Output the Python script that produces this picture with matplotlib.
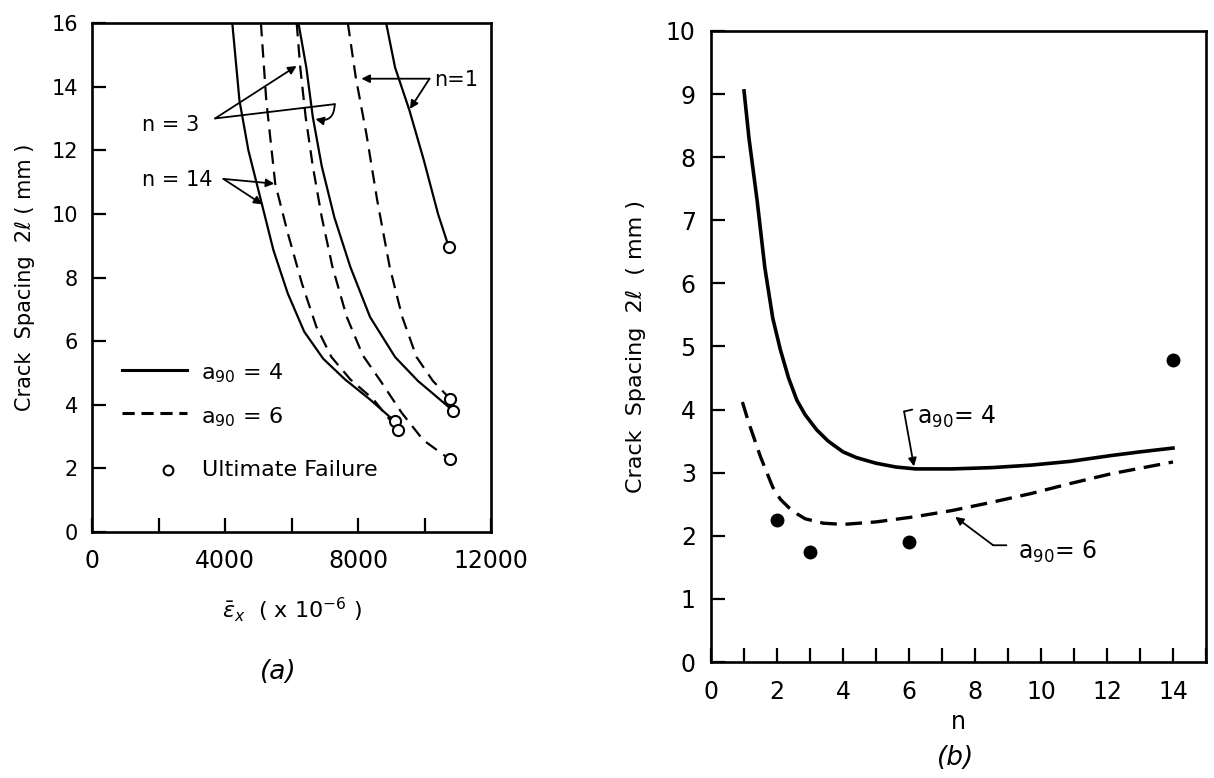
import matplotlib
matplotlib.use("Agg")
import matplotlib.pyplot as plt
from matplotlib.lines import Line2D

plt.rcParams['font.family'] = ['DejaVu Sans']
plt.rcParams['mathtext.fontset'] = 'dejavusans'

# ---------------- Panel (a) data: strain (x1e-6) vs crack spacing (mm) ----------------
n14_solid_x = [4218, 4433, 4702, 5079, 5455, 5886, 6380, 6950, 7604, 8354, 9104]
n14_solid_y = [16.0, 13.57, 12.0, 10.43, 8.86, 7.5, 6.3, 5.45, 4.8, 4.17, 3.48]
n14_dash_x = [5079, 5240, 5509, 5886, 6316, 6747, 7200, 7765, 8461, 9210]
n14_dash_y = [16.0, 13.57, 10.95, 9.4, 7.8, 6.45, 5.5, 4.8, 4.17, 3.2]
n3_dash_x = [6155, 6262, 6424, 6639, 6908, 7231, 7661, 8145, 8675, 9318, 9960, 10763]
n3_dash_y = [16.0, 14.6, 13.05, 11.5, 9.9, 8.33, 6.76, 5.55, 4.75, 3.74, 2.89, 2.28]
n3_solid_x = [6208, 6445, 6639, 6908, 7285, 7769, 8360, 9114, 9800, 10400, 10870]
n3_solid_y = [16.0, 14.6, 13.05, 11.5, 9.9, 8.33, 6.76, 5.5, 4.75, 4.22, 3.8]
n1_dash_x = [7693, 7930, 8253, 8576, 8952, 9329, 9759, 10250, 10763]
n1_dash_y = [16.0, 14.3, 12.5, 10.43, 8.33, 6.76, 5.5, 4.75, 4.19]
n1_solid_x = [8845, 9114, 9544, 9975, 10405, 10728]
n1_solid_y = [16.0, 14.6, 13.26, 11.7, 10.0, 8.96]
fail_x = [9104, 9210, 10763, 10870, 10763, 10728]
fail_y = [3.48, 3.2, 4.19, 3.8, 2.28, 8.96]

a_xticks = [0, 2000, 4000, 6000, 8000, 10000, 12000]
a_xticklabels = ['0', '', '4000', '', '8000', '', '12000']
a_yticks = [0, 2, 4, 6, 8, 10, 12, 14, 16]

# ---------------- Panel (b) data: n vs crack spacing ----------------
b4_n = [1.0, 1.15, 1.4, 1.63, 1.87, 2.1, 2.35, 2.6, 2.85, 3.2, 3.55, 4.0, 4.4, 5.0,
        5.6, 6.2, 7.3, 8.5, 9.7, 10.9, 12.1, 13.0, 14.0]
b4_s = [9.05, 8.3, 7.3, 6.25, 5.45, 4.95, 4.5, 4.15, 3.92, 3.68, 3.5, 3.33, 3.24, 3.15,
        3.09, 3.06, 3.06, 3.08, 3.12, 3.18, 3.27, 3.33, 3.39]
b6_n = [0.95, 1.15, 1.5, 1.87, 2.1, 2.35, 2.6, 2.85, 3.4, 4.0, 5.0, 6.15, 7.3, 8.5,
        9.7, 10.9, 12.1, 14.0]
b6_s = [4.12, 3.78, 3.25, 2.77, 2.58, 2.45, 2.35, 2.27, 2.2, 2.18, 2.22, 2.3, 2.4, 2.53,
        2.67, 2.83, 2.98, 3.17]
exp_n = [2, 3, 6, 14]
exp_s = [2.25, 1.75, 1.9, 4.78]
b_xticks = list(range(0, 16))
b_xticklabels = [str(v) if v % 2 == 0 and v <= 14 else '' for v in b_xticks]
b_yticks = list(range(0, 11))

fig = plt.figure(figsize=(12.14, 7.78), dpi=100)
axa = fig.add_axes([0.0758, 0.3162, 0.3287, 0.6542])
axb = fig.add_axes([0.5857, 0.1491, 0.4077, 0.8111])

SP = 1.9
for ax in (axa, axb):
    for s in ax.spines.values():
        s.set_linewidth(SP)
        s.set_color('black')

# ---- panel (a)
lw_a = 1.6
dash_a = (6.0, 3.6)
axa.plot(n14_solid_x, n14_solid_y, color='k', lw=lw_a)
axa.plot(n14_dash_x, n14_dash_y, color='k', lw=lw_a, dashes=dash_a)
axa.plot(n3_solid_x, n3_solid_y, color='k', lw=lw_a)
axa.plot(n3_dash_x, n3_dash_y, color='k', lw=lw_a, dashes=dash_a)
axa.plot(n1_solid_x, n1_solid_y, color='k', lw=lw_a)
axa.plot(n1_dash_x, n1_dash_y, color='k', lw=lw_a, dashes=dash_a)
axa.plot(fail_x, fail_y, linestyle='none', marker='o', ms=8, mfc='white', mec='k', mew=1.5, zorder=5)

axa.set_xlim(0, 12000)
axa.set_ylim(0, 16)
axa.set_xticks(a_xticks)
axa.set_xticklabels(a_xticklabels)
axa.set_yticks(a_yticks)
axa.tick_params(axis='x', direction='in', length=10, width=1.6, labelsize=17, pad=12)
axa.tick_params(axis='y', direction='in', length=10, width=1.6, labelsize=15, pad=10)
axa.set_ylabel('Crack  Spacing  2ℓ ( mm )', fontsize=15, labelpad=12)
axa.set_xlabel(r'$\bar{\epsilon}_{x}$  ( x 10$^{-6}$ )', fontsize=16, labelpad=16)

aprops = dict(arrowstyle='-|>', color='k', lw=1.3, mutation_scale=12, shrinkA=0, shrinkB=0)
lprops = dict(arrowstyle='-', color='k', lw=1.3, shrinkA=0, shrinkB=0)
# n=1
axa.text(10300, 14.2, 'n=1', fontsize=15, va='center', ha='left')
axa.annotate('', xy=(8100, 14.25), xytext=(10150, 14.25), arrowprops=aprops)
axa.annotate('', xy=(9560, 13.3), xytext=(10150, 14.25), arrowprops=aprops)
# n = 3
axa.text(1500, 12.8, 'n = 3', fontsize=15, va='center', ha='left')
axa.annotate('', xy=(6150, 14.65), xytext=(3700, 13.0), arrowprops=aprops)
axa.annotate('', xy=(7300, 13.45), xytext=(3700, 13.0), arrowprops=lprops)
axa.annotate('', xy=(6720, 12.98), xytext=(7300, 13.45),
             arrowprops=dict(aprops, connectionstyle='arc3,rad=-0.6'))
# n = 14
axa.text(1500, 11.06, 'n = 14', fontsize=15, va='center', ha='left')
axa.annotate('', xy=(5480, 10.95), xytext=(3950, 11.1), arrowprops=aprops)
axa.annotate('', xy=(5120, 10.3), xytext=(3950, 11.1), arrowprops=aprops)

# key (legend) drawn in axes coordinates
T = axa.transAxes
axa.add_line(Line2D([0.075, 0.238], [0.318, 0.318], color='k', lw=2.2, transform=T))
axa.text(0.273, 0.312, r'$\mathregular{a_{90}}$ = 4', fontsize=16, va='center', ha='left', transform=T)
axa.add_line(Line2D([0.075, 0.238], [0.234, 0.234], color='k', lw=2.2, dashes=(4, 2.2), transform=T))
axa.text(0.273, 0.226, r'$\mathregular{a_{90}}$ = 6', fontsize=16, va='center', ha='left', transform=T)
axa.add_line(Line2D([0.19], [0.122], linestyle='none', marker='o', ms=7, mfc='white', mec='k',
                    mew=1.5, transform=T))
axa.text(0.276, 0.122, 'Ultimate Failure', fontsize=16, va='center', ha='left', transform=T)

# ---- panel (b)
axb.plot(b4_n, b4_s, color='k', lw=2.6)
axb.plot(b6_n, b6_s, color='k', lw=2.4, dashes=(5.0, 2.6))
axb.plot(exp_n, exp_s, linestyle='none', marker='o', ms=9, color='k')
axb.set_xlim(0, 15)
axb.set_ylim(0, 10)
axb.set_xticks(b_xticks)
axb.set_xticklabels(b_xticklabels)
axb.set_yticks(b_yticks)
axb.tick_params(axis='x', direction='in', length=10, width=1.6, labelsize=17, pad=13)
axb.tick_params(axis='y', direction='in', length=10, width=1.6, labelsize=17, pad=11)
axb.set_ylabel('Crack  Spacing  2ℓ  ( mm )', fontsize=16, labelpad=14)
axb.set_xlabel('n', fontsize=17, labelpad=4)

axb.text(6.25, 3.88, r'$\mathregular{a_{90}}$= 4', fontsize=17, va='center', ha='left')
axb.annotate('', xy=(6.1, 4.0), xytext=(5.85, 3.97), arrowprops=lprops)
axb.annotate('', xy=(6.15, 3.1), xytext=(5.85, 3.97), arrowprops=aprops)
axb.text(9.3, 1.74, r'$\mathregular{a_{90}}$= 6', fontsize=17, va='center', ha='left')
axb.annotate('', xy=(8.55, 1.85), xytext=(8.95, 1.85), arrowprops=lprops)
axb.annotate('', xy=(7.4, 2.3), xytext=(8.55, 1.85), arrowprops=aprops)

fig.text(278 / 1214, 1 - 672 / 778, '(a)', fontsize=19, style='italic', ha='center', va='center')
fig.text(956 / 1214, 1 - 758 / 778, '(b)', fontsize=19, style='italic', ha='center', va='center')

fig.savefig('out.png', dpi=100)
